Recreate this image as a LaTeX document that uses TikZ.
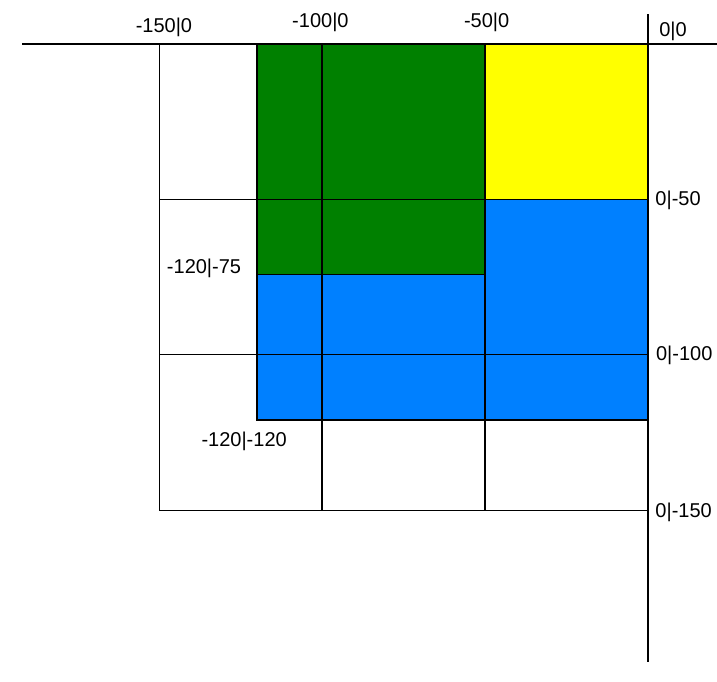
\documentclass[tikz,border=0pt]{standalone}
\usepackage{fontspec}
\setmainfont{Liberation Sans}
\usepackage{xcolor}
\definecolor{fieldgreen}{RGB}{0,128,0}
\definecolor{fieldyellow}{RGB}{255,255,0}
\definecolor{fieldblue}{RGB}{0,128,255}
\tikzset{
	axis/.style={line width=2.2pt},
	gridline/.style={line width=0.8pt},
	edge/.style={line width=1.5pt},
	coordlabel/.style={inner sep=0pt,font=\fontsize{15}{18}\selectfont}
}

\begin{document}
\begin{tikzpicture}[x=2.445pt,y=2.3325pt]
				\useasboundingbox (-198.8,14.15) rectangle (21.17,-205.1);

				\fill[fieldgreen] (-120,0) rectangle (-50,-74);
				\fill[fieldyellow] (-50,0) rectangle (0,-50);
				\fill[fieldblue] (-120,-74) rectangle (-50,-121);
				\fill[fieldblue] (-50,-50) rectangle (0,-121);

				\draw[gridline] (-150,0) -- (-150,-150) -- (0,-150);
				\draw[gridline] (-150,-50) -- (0,-50);
				\draw[gridline] (-150,-100) -- (0,-100);
				\draw[gridline] (-50,0) -- (-50,-150);
				\draw[edge] (-100,0) -- (-100,-150);
				\draw[gridline] (-120,-74) -- (-50,-74);
				\draw[edge] (-120,0) -- (-120,-121) -- (0,-121);

				\draw[axis] (-191.9,0) -- (21.17,0);
				\draw[axis] (0,9.6) -- (0,-198.7);

				\node[coordlabel] (xa) at (-148.5,5.5) {-150|0};
				\node[coordlabel] (xb) at (-100.5,7) {-100|0};
				\node[coordlabel] (xc) at (-49.5,7) {-50|0};
				\node[coordlabel] (orig) at (7.7,4.2) {0|0};
				\node[coordlabel,anchor=west] (ya) at (2.2,-50.2) {0|-50};
				\node[coordlabel,anchor=west] (yb) at (2.4,-100) {0|-100};
				\node[coordlabel,anchor=west] (yc) at (2.2,-150.5) {0|-150};
				\node[coordlabel] (ca) at (-136.2,-72) {-120|-75};
				\node[coordlabel] (cb) at (-123.9,-127.7) {-120|-120};
			\end{tikzpicture}
\end{document}
